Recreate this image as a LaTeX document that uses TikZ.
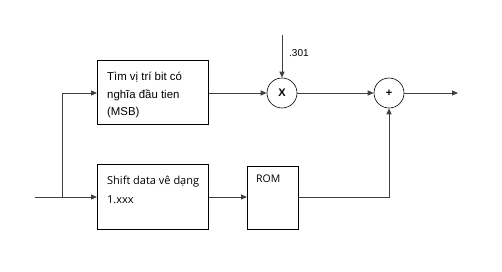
\documentclass[tikz,border=0pt]{standalone}
\usepackage{fontspec}
\setmainfont{Liberation Sans}
\newfontfamily\boxfont{Open Sans}
\usetikzlibrary{arrows.meta}
\begin{document}
\begin{tikzpicture}[x=1pt,y=-1pt,
  blk/.style={draw, line width=0.9pt, anchor=north west, inner sep=0pt},
  sumc/.style={draw, circle, line width=0.6pt, minimum size=30pt, inner sep=0pt},
  conn/.style={draw=black!75, line width=1pt, -{Triangle[length=6pt,width=5pt]}},
  plain/.style={draw=black!75, line width=1pt},
  txt/.style={anchor=base west, inner sep=0pt, font=\fontsize{11.4}{13}\selectfont}]
\useasboundingbox (0,0) rectangle (502,271);
% boxes
\node[blk, minimum width=111pt, minimum height=64pt] (b1) at (97,60) {};
\node[blk, minimum width=111pt, minimum height=65pt] (b2) at (97,164) {};
\node[blk, minimum width=51pt, minimum height=63pt] (rom) at (247,166) {};
% box texts
\node[txt] (t1a) at (107,80) {Tìm vị trí bit có};
\node[txt] (t1b) at (107,98) {nghĩa đầu tien};
\node[txt] (t1c) at (107,115) {(MSB)};
\node[txt, font=\boxfont\fontsize{11}{13}\selectfont] (t2a) at (107,184) {Shift data vê dạng};
\node[txt, font=\boxfont\fontsize{11}{13}\selectfont] (t2b) at (107,203) {1.xxx};
\node[txt, font=\boxfont\fontsize{10.5}{13}\selectfont] (t3) at (256,182) {ROM};
% circles
\node[sumc] (mul) at (282,93) {\fontsize{11}{13}\selectfont\textbf{X}};
\node[sumc] (add) at (389,93) {\fontsize{11}{13}\selectfont\textbf{+}};
% coordinates
\coordinate (in) at (35,197);
\coordinate (br) at (62,197);
\coordinate (brt) at (62,93);
\coordinate (top) at (282,35);
\coordinate (out) at (458,93);
\coordinate (rc) at (389,197);
\node[txt, font=\fontsize{10}{12}\selectfont] (k) at (289,56) {.301};
% connectors
\draw[plain] (in) -- (br);
\draw[conn] (br) -- (b2.west |- br);
\draw[conn] (br) -- (brt) -- (b1.west |- brt);
\draw[conn] (b1.east |- mul) -- (mul);
\draw[conn] (top) -- (mul);
\draw[conn] (mul) -- (add);
\draw[conn] (add) -- (out);
\draw[conn] (b2.east |- br) -- (rom.west |- br);
\draw[conn] (rom.east |- rc) -- (rc) -- (add);
\end{tikzpicture}
\end{document}
